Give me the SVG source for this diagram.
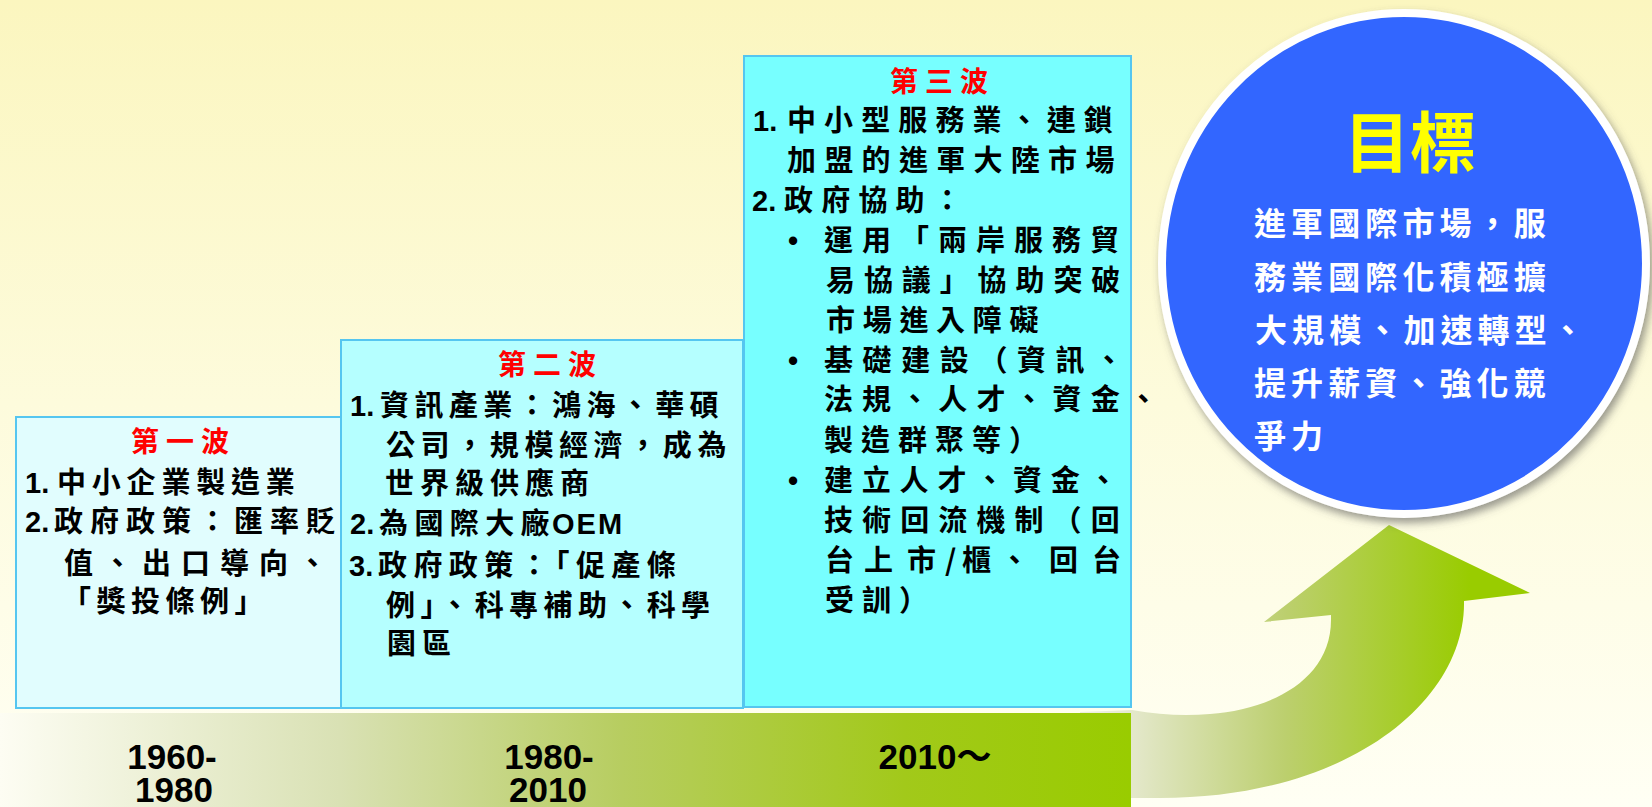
<svg xmlns="http://www.w3.org/2000/svg" width="1652" height="807" viewBox="0 0 1652 807">
<defs>
<linearGradient id="bg" x1="0" y1="0" x2="0" y2="1">
<stop offset="0" stop-color="#fbf6bf"/><stop offset="0.5" stop-color="#fdfbdc"/><stop offset="1" stop-color="#fffff4"/>
</linearGradient>
<linearGradient id="bar" gradientUnits="userSpaceOnUse" x1="0" y1="0" x2="1131" y2="0">
<stop offset="0" stop-color="#fdfdf3"/><stop offset="0.3" stop-color="#d9e1b4"/><stop offset="0.55" stop-color="#b7cd60"/><stop offset="0.8" stop-color="#a2c91a"/><stop offset="1" stop-color="#99cc00"/>
</linearGradient>
<linearGradient id="arr" gradientUnits="userSpaceOnUse" x1="1100" y1="0" x2="1470" y2="0">
<stop offset="0" stop-color="#ecedde"/><stop offset="0.5" stop-color="#bccf6e"/><stop offset="1" stop-color="#99cc00"/>
</linearGradient>
<filter id="sh" x="-10%" y="-10%" width="120%" height="120%">
<feDropShadow dx="3" dy="5" stdDeviation="4" flood-color="#555" flood-opacity="0.6"/>
</filter>
<style>
.t{font-family:"Noto Sans CJK TC","Noto Sans CJK SC",sans-serif;font-weight:700;font-size:29px;fill:#000}
.n{font-family:"Liberation Sans",Arial,sans-serif;font-weight:700;font-size:29px;fill:#000}
.r{font-family:"Noto Sans CJK TC","Noto Sans CJK SC",sans-serif;font-weight:700;font-size:28px;fill:#ff0000;letter-spacing:7px}
.w{font-family:"Noto Sans CJK TC","Noto Sans CJK SC",sans-serif;font-weight:700;font-size:32px;fill:#fff;letter-spacing:5.1px}
.yr{font-family:"Liberation Sans",Arial,"Noto Sans CJK TC",sans-serif;font-weight:700;font-size:35px;fill:#000;text-anchor:middle}
.box{stroke:#55c6f0;stroke-width:2}
</style>
</defs>
<rect x="0" y="0" width="1652" height="807" fill="url(#bg)"/>

<g id="connectors">
<path d="M 1080,712 L 1132,710 C 1160,715 1185,716 1210,714 C 1270,710 1331,680 1331,620 L 1331,615 L 1264,622 L 1389,525 L 1530,593 L 1464,601 C 1466,700 1350,798 1160,798 L 1080,798 Z" fill="url(#arr)"/>
<rect x="0" y="713" width="1131" height="94" fill="url(#bar)"/>
</g>

<g id="wave1">
<rect class="box" x="16" y="417" width="325" height="291" fill="#e1fdfe"/>
<text class="r" x="131" y="452">第一波</text>
<text class="n" x="25" y="493">1.</text><text class="t" x="57" y="493" letter-spacing="5.8">中小企業製造業</text>
<text class="n" x="25" y="532">2.</text><text class="t" x="54" y="532" letter-spacing="7">政府政策：匯率貶</text>
<text class="t" x="64" y="574" letter-spacing="10">值、出口導向、</text>
<text class="t" x="62" y="612" letter-spacing="5.5">「獎投條例」</text>
</g>

<g id="wave2">
<rect class="box" x="341" y="340" width="402" height="368" fill="#b5ffff"/>
<text class="r" x="498" y="375">第二波</text>
<text class="n" x="350" y="415.5">1.</text><text class="t" x="380" y="415.5" letter-spacing="5.4">資訊產業：鴻海、華碩</text>
<text class="t" x="386" y="455.5" letter-spacing="5.6">公司，規模經濟，成為</text>
<text class="t" x="385" y="494" letter-spacing="6">世界級供應商</text>
<text class="n" x="350" y="534">2.</text><text class="t" x="379" y="534" letter-spacing="6.4">為國際大廠</text><text class="n" x="552" y="534" letter-spacing="2">OEM</text>
<text class="n" x="349" y="575.5">3.</text><text class="t" x="378" y="575.5" letter-spacing="6.4">政府政策：「促產條</text>
<text class="t" x="386" y="615.5" letter-spacing="5.4">例」、科專補助、科學</text>
<text class="t" x="387" y="654" letter-spacing="6">園區</text>
</g>

<g id="wave3">
<rect class="box" x="744" y="56" width="387" height="651" fill="#77ffff"/>
<text class="r" x="890" y="92">第三波</text>
<text class="n" x="753" y="131">1.</text><text class="t" x="787" y="131" letter-spacing="8.1">中小型服務業、連鎖</text>
<text class="t" x="787" y="171" letter-spacing="8.3">加盟的進軍大陸市場</text>
<text class="n" x="752" y="210.5">2.</text><text class="t" x="784" y="210.5" letter-spacing="8.2">政府協助：</text>
<text class="n" x="788" y="251">•</text><text class="t" x="824" y="251" letter-spacing="9">運用「兩岸服務貿</text>
<text class="t" x="826" y="291" letter-spacing="8.9">易協議」協助突破</text>
<text class="t" x="826" y="331" letter-spacing="7.7">市場進入障礙</text>
<text class="n" x="788" y="370.5">•</text><text class="t" x="824" y="370.5" letter-spacing="9.6">基礎建設（資訊、</text>
<text class="t" x="824" y="409.5" letter-spacing="9.1">法規、人才、資金、</text>
<text class="t" x="824" y="450.5" letter-spacing="8">製造群聚等）</text>
<text class="n" x="788" y="490.5">•</text><text class="t" x="824" y="490.5" letter-spacing="8.8">建立人才、資金、</text>
<text class="t" x="824" y="530.5" letter-spacing="9.1">技術回流機制（回</text>
<text class="t" x="825 864 907 945 962 1000 1049 1092" y="571">台上市/櫃、回台</text>
<text class="t" x="825" y="611" letter-spacing="8">受訓）</text>
</g>

<g id="goal">
<ellipse cx="1404" cy="263.5" rx="242" ry="250.5" fill="#3366ff" stroke="#ffffff" stroke-width="8" filter="url(#sh)"/>
<text x="1410" y="167" text-anchor="middle" style="font-family:'Noto Sans CJK TC','Noto Sans CJK SC',sans-serif;font-weight:700;font-size:66px;fill:#ffff00">目標</text>
<text class="w" x="1254" y="235">進軍國際市場，服</text>
<text class="w" x="1254" y="288.5">務業國際化積極擴</text>
<text class="w" x="1255" y="341.5">大規模、加速轉型、</text>
<text class="w" x="1254" y="395">提升薪資、強化競</text>
<text class="w" x="1254" y="448">爭力</text>
</g>

<g id="years">
<text class="yr" x="172" y="769">1960-</text>
<text class="yr" x="174" y="802">1980</text>
<text class="yr" x="549" y="769">1980-</text>
<text class="yr" x="548" y="802">2010</text>
<text class="yr" x="935" y="769">2010～</text>
</g>
</svg>
